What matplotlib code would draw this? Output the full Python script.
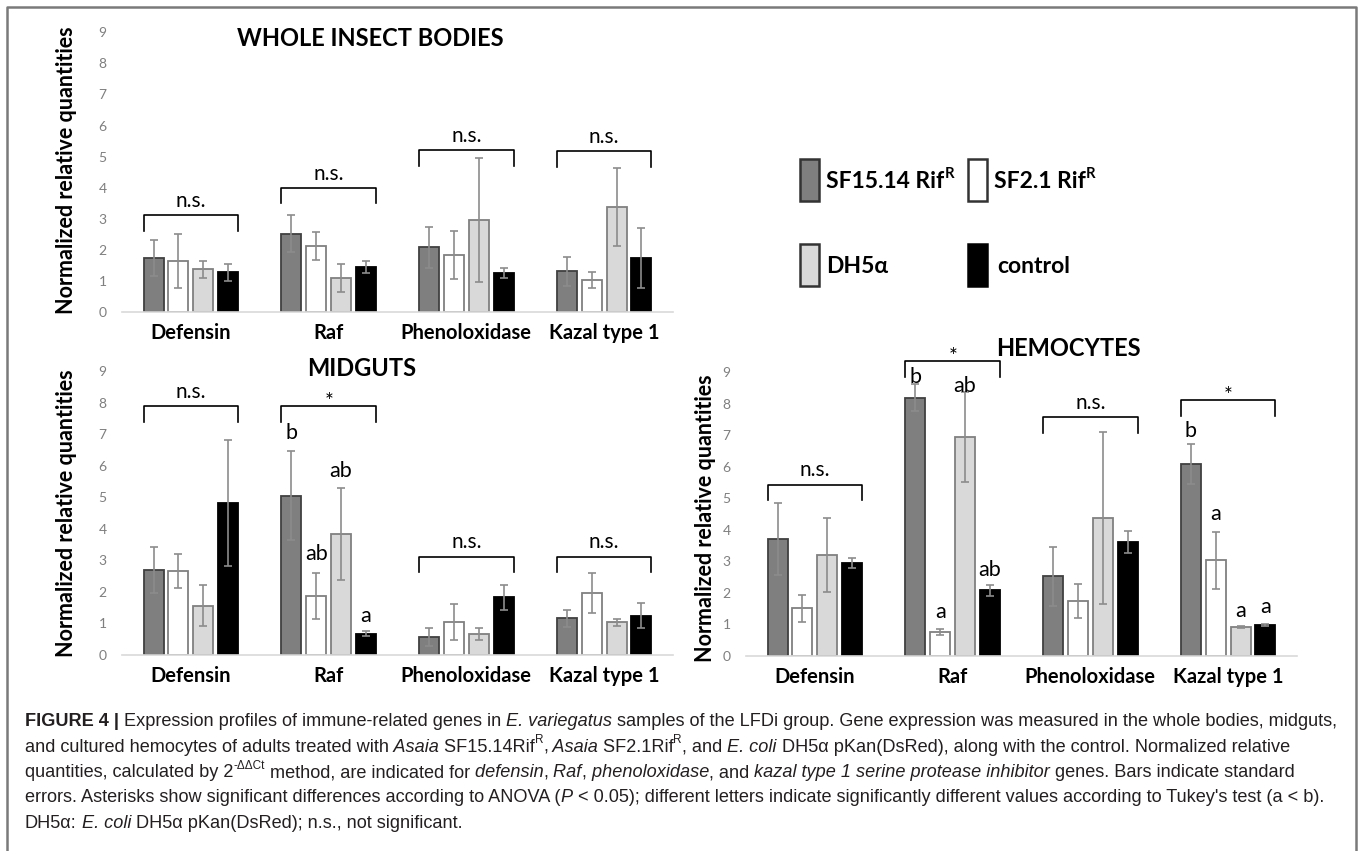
import numpy as np
import matplotlib
matplotlib.use("Agg")
import matplotlib.pyplot as plt
from matplotlib.patches import Rectangle
from matplotlib.lines import Line2D

W, H = 1362, 851

genes = ["Defensin", "Raf", "Phenoloxidase", "Kazal type 1"]

# whole insect bodies
whole_sf15 = [1.75, 2.52, 2.08, 1.31]
whole_sf21 = [1.64, 2.11, 1.84, 1.03]
whole_dh5a = [1.37, 1.10, 2.97, 3.38]
whole_ctrl = [1.28, 1.45, 1.25, 1.73]
whole_sf15_err = [0.58, 0.60, 0.65, 0.47]
whole_sf21_err = [0.88, 0.45, 0.78, 0.25]
whole_dh5a_err = [0.27, 0.45, 2.00, 1.25]
whole_ctrl_err = [0.27, 0.18, 0.17, 0.96]

# midguts
mid_sf15 = [2.70, 5.05, 0.57, 1.16]
mid_sf21 = [2.66, 1.88, 1.04, 1.96]
mid_dh5a = [1.56, 3.84, 0.66, 1.03]
mid_ctrl = [4.81, 0.68, 1.83, 1.25]
mid_sf15_err = [0.73, 1.41, 0.30, 0.28]
mid_sf21_err = [0.53, 0.73, 0.57, 0.63]
mid_dh5a_err = [0.65, 1.45, 0.18, 0.12]
mid_ctrl_err = [2.00, 0.07, 0.40, 0.41]

# hemocytes
hemo_sf15 = [3.71, 8.19, 2.52, 6.08]
hemo_sf21 = [1.51, 0.75, 1.74, 3.03]
hemo_dh5a = [3.20, 6.95, 4.37, 0.92]
hemo_ctrl = [2.95, 2.08, 3.62, 0.99]
hemo_sf15_err = [1.15, 0.42, 0.92, 0.63]
hemo_sf21_err = [0.42, 0.10, 0.53, 0.91]
hemo_dh5a_err = [1.16, 1.43, 2.73, 0.02]
hemo_ctrl_err = [0.16, 0.17, 0.35, 0.03]

# significance brackets: (gene index, bracket height, label)
whole_brackets = [(0, 3.12, "n.s."), (1, 4.0, "n.s."), (2, 5.2, "n.s."), (3, 5.17, "n.s.")]
mid_brackets = [(0, 7.88, "n.s."), (1, 7.88, "*"), (2, 3.12, "n.s."), (3, 3.12, "n.s.")]
hemo_brackets = [(0, 5.43, "n.s."), (1, 9.34, "*"), (2, 7.57, "n.s."), (3, 8.1, "*")]

# Tukey letters: (gene index, treatment index, height, letter)
mid_letters = [(1, 0, 7.1, "b"), (1, 1, 3.26, "ab"), (1, 2, 5.88, "ab"), (1, 3, 1.23, "a")]
hemo_letters = [(1, 0, 8.91, "b"), (1, 1, 1.38, "a"), (1, 2, 8.63, "ab"), (1, 3, 2.8, "ab"),
                (3, 0, 7.2, "b"), (3, 1, 4.49, "a"), (3, 2, 1.42, "a"), (3, 3, 1.53, "a")]

fills = ["#7f7f7f", "#ffffff", "#d9d9d9", "#000000"]
edges = ["#404040", "#808080", "#808080", "#000000"]
bar_w = 0.145
pitch = 0.18

plt.rcParams["font.family"] = ["Lato", "DejaVu Sans"]


def px_x(x):
    return x / W


def px_y(y):
    return 1 - y / H


def add_axes(fig, left, top, right, bottom):
    return fig.add_axes([left / W, 1 - bottom / H, (right - left) / W, (bottom - top) / H])


def draw_panel(ax, means, errs, brackets, letters):
    xs = np.arange(len(genes))
    for i in range(4):
        pos = xs + (i - 1.5) * pitch
        ax.bar(pos, means[i], width=bar_w, color=fills[i], edgecolor=edges[i],
               linewidth=1.3, zorder=2)
        ax.errorbar(pos, means[i], yerr=errs[i], fmt="none", ecolor="#8c8c8c",
                    elinewidth=1.2, capsize=3, capthick=1.2, zorder=3)
    ax.set_xlim(-0.5, 3.5)
    ax.set_ylim(0, 9)
    ax.set_yticks(range(10))
    ax.set_xticks(xs)
    ax.set_xticklabels(genes, fontweight="bold", fontsize=14.5)
    ax.tick_params(axis="both", length=0)
    ax.tick_params(axis="y", labelcolor="#7f7f7f", labelsize=10, pad=11)
    ax.tick_params(axis="x", pad=8)
    for s in ["top", "right", "left"]:
        ax.spines[s].set_visible(False)
    ax.spines["bottom"].set_color("#d9d9d9")
    ax.spines["bottom"].set_linewidth(1.2)
    ax.patch.set_alpha(0)

    for g, yb, lab in brackets:
        x0 = g - 1.5 * pitch - bar_w / 2
        x1 = g + 1.5 * pitch + bar_w / 2
        ax.plot([x0, x0, x1, x1], [yb - 0.5, yb, yb, yb - 0.5], color="black",
                lw=1.2, clip_on=False, zorder=4)
        if lab == "*":
            ax.text(g, yb - 0.05, lab, ha="center", va="baseline", fontsize=15, clip_on=False)
        else:
            ax.text(g, yb + 0.26, lab, ha="center", va="baseline", fontsize=15, clip_on=False)

    for g, t, yl, lab in letters:
        off = 0.17 if lab == "a" else 0.25
        ax.text(g + (t - 1.5) * pitch, yl - off, lab, ha="center", va="baseline",
                fontsize=15.5, clip_on=False)


def draw_runs(fig, renderer, x, y_base, parts, size, family, color, weight="normal"):
    for s, style in parts:
        kw = dict(fontsize=size, family=family, color=color, fontweight=weight)
        dy = 0
        if "b" in style:
            kw["fontweight"] = "bold"
        if "i" in style:
            kw["fontstyle"] = "italic"
        if "s" in style:
            kw["fontsize"] = size * 0.65
            dy = size * 0.45 * 100 / 72
        t = fig.text(x / W, 1 - (y_base - dy) / H, s, ha="left", va="baseline", **kw)
        x += t.get_window_extent(renderer).width
    return x


def main():
    fig = plt.figure(figsize=(W / 100, H / 100), dpi=100)
    renderer = fig.canvas.get_renderer()

    ax1 = add_axes(fig, 122, 32.3, 673, 312)
    draw_panel(ax1, [whole_sf15, whole_sf21, whole_dh5a, whole_ctrl],
               [whole_sf15_err, whole_sf21_err, whole_dh5a_err, whole_ctrl_err],
               whole_brackets, [])
    ax2 = add_axes(fig, 122, 371, 673, 655)
    draw_panel(ax2, [mid_sf15, mid_sf21, mid_dh5a, mid_ctrl],
               [mid_sf15_err, mid_sf21_err, mid_dh5a_err, mid_ctrl_err],
               mid_brackets, mid_letters)
    ax3 = add_axes(fig, 746, 372, 1297, 656)
    draw_panel(ax3, [hemo_sf15, hemo_sf21, hemo_dh5a, hemo_ctrl],
               [hemo_sf15_err, hemo_sf21_err, hemo_dh5a_err, hemo_ctrl_err],
               hemo_brackets, hemo_letters)

    ylab = "Normalized relative quantities"
    for x, y in [(67, 170), (67, 513), (706, 518)]:
        fig.text(px_x(x), px_y(y), ylab, rotation=90, ha="center", va="center",
                 fontweight="bold", fontsize=15.5)

    for x, y, s in [(370, 38, "WHOLE INSECT BODIES"), (362, 368, "MIDGUTS"), (1068, 349, "HEMOCYTES")]:
        fig.text(px_x(x), px_y(y), s, ha="center", va="center", fontweight="bold", fontsize=17)

    # legend
    legend_items = [
        (800, 159, 0, [("SF15.14 Rif", ""), ("R", "s")]),
        (968, 159, 1, [("SF2.1 Rif", ""), ("R", "s")]),
        (800, 244, 2, [("DH5α", "")]),
        (968, 244, 3, [("control", "")]),
    ]
    for x, y, i, parts in legend_items:
        fig.add_artist(Rectangle((px_x(x), px_y(y + 42)), 19 / W, 42 / H, facecolor=fills[i],
                                 edgecolor="#333333" if i != 3 else "black", lw=1.8,
                                 transform=fig.transFigure))
        draw_runs(fig, renderer, x + 26 + (3 if i == 3 else 0), y + 29, parts, 16.5,
                  ["Lato", "DejaVu Sans"], "black", weight="bold")

    # frame
    fig.add_artist(Line2D([px_x(7), px_x(7), px_x(1356), px_x(1356)],
                          [0, px_y(7), px_y(7), 0], color="#7a7a7a", lw=1.8,
                          transform=fig.transFigure))

    # caption
    cap = ["Liberation Sans", "DejaVu Sans"]
    lines = [
        [("FIGURE 4 |", "b"), (" Expression profiles of immune-related genes in", ""),
         (" E. variegatus", "i"),
         (" samples of the LFDi group. Gene expression was measured in the whole bodies, midguts,", "")],
        [("and cultured hemocytes of adults treated with", ""), (" Asaia", "i"), (" SF15.14Rif", ""),
         ("R", "s"), (",", ""), (" Asaia", "i"), (" SF2.1Rif", ""), ("R", "s"), (", and", ""),
         (" E. coli", "i"), (" DH5α pKan(DsRed), along with the control. Normalized relative", "")],
        [("quantities, calculated by 2", ""), ("-ΔΔCt", "s"), (" method, are indicated for", ""),
         (" defensin", "i"), (",", ""), (" Raf", "i"), (",", ""), (" phenoloxidase", "i"),
         (", and", ""), (" kazal type 1 serine protease inhibitor", "i"),
         (" genes. Bars indicate standard", "")],
        [("errors. Asterisks show significant differences according to ANOVA (", ""), ("P", "i"),
         (" < 0.05); different letters indicate significantly different values according to Tukey's test (a < b).", "")],
        [("DH5α:", ""), (" E. coli", "i"), (" DH5α pKan(DsRed); n.s., not significant.", "")],
    ]
    for k, parts in enumerate(lines):
        draw_runs(fig, renderer, 25, 726 + k * 25.5, parts, 13.1, cap, "#231f20")

    fig.savefig("out.png", dpi=100)


if __name__ == "__main__":
    main()
